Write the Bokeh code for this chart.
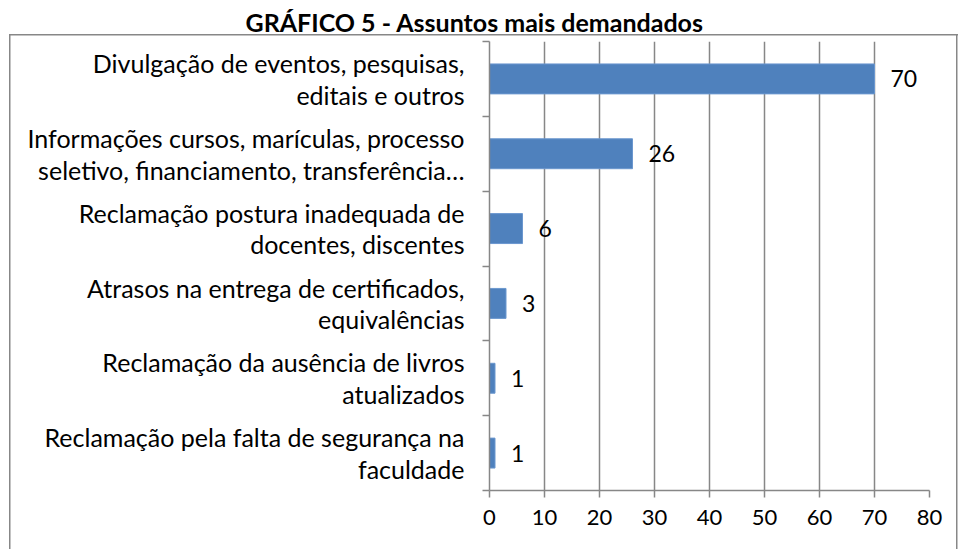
from bokeh.plotting import figure
from bokeh.models import Range1d, FixedTicker, ColumnDataSource, LabelSet
from bokeh.core.properties import value
from bokeh.embed import file_html
from bokeh.resources import INLINE

# ---- data ----
categories = [
    "Divulgação de eventos, pesquisas,\neditais e outros",
    "Informações cursos, marículas, processo\nseletivo, financiamento, transferência…",
    "Reclamação postura inadequada de\ndocentes, discentes",
    "Atrasos na entrega de certificados,\nequivalências",
    "Reclamação da ausência de livros\natualizados",
    "Reclamação pela falta de segurança na\nfaculdade",
]
values = [70, 26, 6, 3, 1, 1]
x_ticks = [0, 10, 20, 30, 40, 50, 60, 70, 80]
title_text = "GRÁFICO 5 - Assuntos mais demandados"

FONT = "Lato"
GRAY = "#878787"

n = len(categories)
ypos = [i + 0.5 for i in range(n)]

# outer chart frame (drawn as CSS background lines behind a transparent canvas)
css_line = f"linear-gradient({GRAY}, {GRAY})"
p = figure(width=958, height=549, output_backend="svg", toolbar_location=None,
           x_range=Range1d(0, 80), y_range=Range1d(n, 0),
           min_border_left=489, min_border_right=29,
           min_border_top=41, min_border_bottom=59,
           styles={"background": f"{css_line} 9px 34px / 949px 1.5px no-repeat, "
                                 f"{css_line} 9px 34px / 1.5px 600px no-repeat, "
                                 f"{css_line} 956px 34px / 1.5px 600px no-repeat, white"})
p.outline_line_color = None
p.background_fill_color = None
p.border_fill_color = None

# title, above the chart frame
p.title.text = title_text
p.title.align = "left"
p.title.offset = -244
p.title.vertical_align = "top"
p.title.standoff = 5
p.title.text_font = FONT
p.title.text_font_style = "bold"
p.title.text_font_size = "25px"
p.title.text_color = "black"

src = ColumnDataSource(dict(y=ypos, v=values, lbl=[str(v) for v in values]))
p.hbar(y="y", left=0, right="v", height=0.4, source=src,
       fill_color="#4F81BD", line_color="#6B97CF", line_width=1)

p.add_layout(LabelSet(x="v", y="y", text="lbl", source=src, x_offset=16,
                      text_baseline="middle", text_align="left",
                      text_font=value(FONT), text_font_size="23px", text_color="black"))

# x axis
p.xaxis.ticker = FixedTicker(ticks=x_ticks)
p.xaxis.axis_line_color = GRAY
p.xaxis.axis_line_width = 1.5
p.xaxis.major_tick_line_color = GRAY
p.xaxis.major_tick_line_width = 1.5
p.xaxis.major_tick_out = 7
p.xaxis.major_tick_in = 0
p.xaxis.minor_tick_line_color = None
p.xaxis.major_label_text_font = FONT
p.xaxis.major_label_text_font_size = "22px"
p.xaxis.major_label_text_color = "black"
p.xaxis.major_label_standoff = 12

# y axis
p.yaxis.ticker = FixedTicker(ticks=ypos, minor_ticks=list(range(n + 1)))
p.yaxis.major_label_overrides = {y: c for y, c in zip(ypos, categories)}
p.yaxis.axis_line_color = GRAY
p.yaxis.axis_line_width = 1.5
p.yaxis.major_tick_line_color = None
p.yaxis.major_tick_out = 0
p.yaxis.major_tick_in = 0
p.yaxis.minor_tick_line_color = GRAY
p.yaxis.minor_tick_line_width = 1.5
p.yaxis.minor_tick_out = 7
p.yaxis.minor_tick_in = 0
p.yaxis.major_label_text_font = FONT
p.yaxis.major_label_text_font_size = "25px"
p.yaxis.major_label_text_color = "black"
p.yaxis.major_label_text_line_height = 1.06
p.yaxis.major_label_standoff = 18

p.xgrid.ticker = FixedTicker(ticks=x_ticks)
p.xgrid.grid_line_color = GRAY
p.xgrid.grid_line_width = 1.5
p.ygrid.grid_line_color = None

open("out.html", "w").write(file_html(p, INLINE))
